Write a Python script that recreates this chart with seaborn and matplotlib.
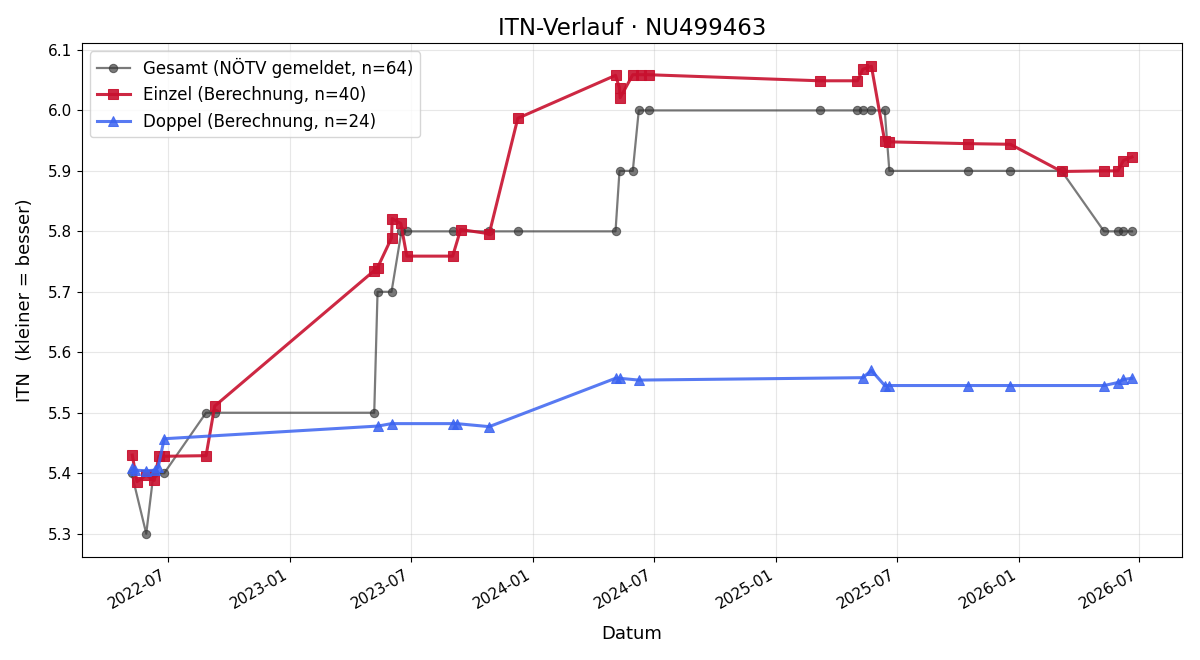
import pandas as pd
import matplotlib
matplotlib.use('Agg')
import matplotlib.pyplot as plt
import matplotlib.dates as mdates
import seaborn as sns

# Gesamt (NÖTV gemeldet)
gesamt_dates = ['2022-05-07', '2022-05-29', '2022-06-09', '2022-06-25', '2022-08-27', '2022-09-09',
                '2023-05-07', '2023-05-12', '2023-06-02', '2023-06-17', '2023-06-25', '2023-09-02',
                '2023-10-27', '2023-12-09', '2024-05-04', '2024-05-10', '2024-05-30', '2024-06-08',
                '2024-06-23', '2025-03-07', '2025-05-03', '2025-05-11', '2025-05-24', '2025-06-13',
                '2025-06-20', '2025-10-17', '2025-12-19', '2026-03-06', '2026-05-09', '2026-05-30',
                '2026-06-07', '2026-06-20']
gesamt_itn = [5.4, 5.3, 5.4, 5.4, 5.5, 5.5,
              5.5, 5.7, 5.7, 5.8, 5.8, 5.8,
              5.8, 5.8, 5.8, 5.9, 5.9, 6.0,
              6.0, 6.0, 6.0, 6.0, 6.0, 6.0,
              5.9, 5.9, 5.9, 5.9, 5.8, 5.8,
              5.8, 5.8]

# Einzel (Berechnung)
einzel_dates = ['2022-05-08', '2022-05-15', '2022-05-29', '2022-06-10', '2022-06-17', '2022-06-25',
                '2022-08-27', '2022-09-09', '2023-05-07', '2023-05-12', '2023-06-02', '2023-06-03',
                '2023-06-16', '2023-06-25', '2023-09-02', '2023-09-14', '2023-10-27', '2023-12-09',
                '2024-05-04', '2024-05-10', '2024-05-11', '2024-05-30', '2024-06-11', '2024-06-23',
                '2025-03-07', '2025-05-03', '2025-05-11', '2025-05-24', '2025-06-13', '2025-06-20',
                '2025-10-17', '2025-12-19', '2026-03-06', '2026-05-09', '2026-05-30', '2026-06-07',
                '2026-06-20']
einzel_itn = [5.430, 5.386, 5.397, 5.388, 5.428, 5.428,
              5.429, 5.511, 5.735, 5.740, 5.789, 5.821,
              5.813, 5.759, 5.759, 5.803, 5.796, 5.987,
              6.058, 6.037, 6.021, 6.059, 6.059, 6.059,
              6.049, 6.049, 6.068, 6.073, 5.949, 5.948,
              5.945, 5.944, 5.899, 5.900, 5.900, 5.917,
              5.923]

# Doppel (Berechnung)
doppel_dates = ['2022-05-08', '2022-05-12', '2022-05-29', '2022-06-11', '2022-06-16', '2022-06-25',
                '2023-05-13', '2023-06-02', '2023-09-02', '2023-09-08', '2023-10-27',
                '2024-05-04', '2024-05-10', '2024-06-08',
                '2025-05-11', '2025-05-24', '2025-06-13', '2025-06-20', '2025-10-17', '2025-12-19',
                '2026-05-09', '2026-05-30', '2026-06-07', '2026-06-20']
doppel_itn = [5.408, 5.405, 5.404, 5.405, 5.410, 5.457,
              5.478, 5.482, 5.482, 5.482, 5.477,
              5.557, 5.557, 5.554,
              5.558, 5.570, 5.545, 5.545, 5.545, 5.545,
              5.545, 5.550, 5.555, 5.557]

gesamt = pd.DataFrame({'Datum': pd.to_datetime(gesamt_dates), 'ITN': gesamt_itn})
einzel = pd.DataFrame({'Datum': pd.to_datetime(einzel_dates), 'ITN': einzel_itn})
doppel = pd.DataFrame({'Datum': pd.to_datetime(doppel_dates), 'ITN': doppel_itn})

fig, ax = plt.subplots(figsize=(12, 6.6), dpi=100)

sns.lineplot(data=gesamt, x='Datum', y='ITN', ax=ax, estimator=None, sort=False,
             color='#333333', alpha=0.65, linewidth=1.6, marker='o', markersize=6,
             markeredgecolor='#333333', label='Gesamt (NÖTV gemeldet, n=64)')
sns.lineplot(data=einzel, x='Datum', y='ITN', ax=ax, estimator=None, sort=False,
             color='#c8102e', alpha=0.9, linewidth=2.2, marker='s', markersize=7,
             markeredgecolor='#c8102e', label='Einzel (Berechnung, n=40)')
sns.lineplot(data=doppel, x='Datum', y='ITN', ax=ax, estimator=None, sort=False,
             color='#3b63f0', alpha=0.85, linewidth=2.2, marker='^', markersize=7,
             markeredgecolor='#3b63f0', label='Doppel (Berechnung, n=24)')

ax.set_title('ITN-Verlauf · NU499463', fontsize=16.5)
ax.set_xlabel('Datum', fontsize=13, labelpad=10)
ax.set_ylabel('ITN  (kleiner = besser)', fontsize=13, labelpad=10)
ax.tick_params(labelsize=11)
ax.xaxis.set_major_locator(mdates.MonthLocator(bymonth=[1, 7]))
ax.xaxis.set_major_formatter(mdates.DateFormatter('%Y-%m'))
ax.grid(True, alpha=0.3)
ax.legend(loc='upper left', fontsize=12)
fig.autofmt_xdate(rotation=30)

fig.subplots_adjust(left=0.068, right=0.985, top=0.935, bottom=0.156)
fig.savefig('out.png')
